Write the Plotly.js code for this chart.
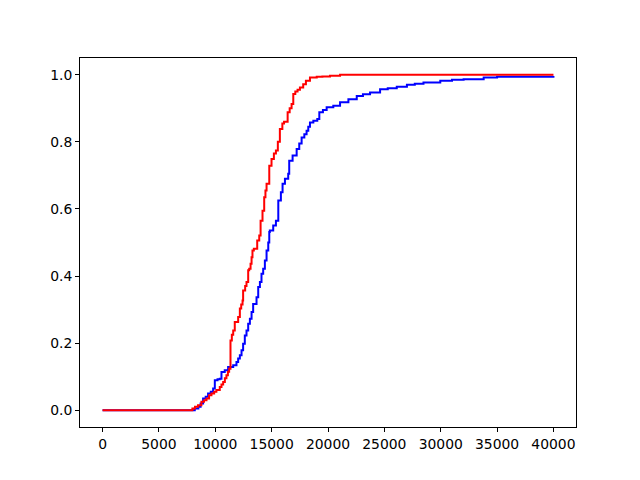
<!DOCTYPE html>
<html>
<head>
<meta charset="utf-8">
<script src="https://cdn.plot.ly/plotly-3.0.1.min.js"></script>
<style>
  body { margin: 0; background: #fff; }
  #chart { width: 640px; height: 480px; }
</style>
</head>
<body>
<div id="chart"></div>
<script>
// step corners: at each x the curve jumps to the matching y
var blueX = [0, 8180, 8500, 8700, 8920, 9150, 9360, 9600, 9810, 9960, 10200, 10400, 10550, 10840,
  11140, 11590, 11880, 12030, 12180, 12330, 12470, 12620, 12770, 12920, 13070, 13220, 13360,
  13660, 13810, 13960, 14100, 14250, 14400, 14550, 14700, 14790, 14840, 15140, 15380, 15590,
  15820, 15970, 16180, 16470, 16560, 16860, 17220, 17450, 17660, 17900, 18100, 18250, 18400,
  18700, 19050, 19230, 19550, 19880, 20470, 21070, 21810, 22550, 23100, 23730, 24620, 25300,
  26100, 27000, 27700, 28470, 29960, 31000, 32030, 33810, 35000, 40000];
var blueY = [0, 0.005, 0.01, 0.02, 0.035, 0.04, 0.05, 0.055, 0.065, 0.089, 0.092, 0.094, 0.114, 0.119,
  0.129, 0.134, 0.144, 0.154, 0.164, 0.179, 0.198, 0.223, 0.238, 0.258, 0.273, 0.293, 0.317,
  0.337, 0.367, 0.382, 0.407, 0.422, 0.446, 0.476, 0.5, 0.531, 0.536, 0.551, 0.565, 0.625,
  0.65, 0.675, 0.69, 0.705, 0.744, 0.759, 0.779, 0.795, 0.813, 0.823, 0.833, 0.845, 0.858,
  0.863, 0.868, 0.888, 0.895, 0.903, 0.908, 0.918, 0.927, 0.937, 0.942, 0.947, 0.957, 0.96,
  0.964, 0.97, 0.973, 0.977, 0.982, 0.985, 0.987, 0.992, 0.994, 0.996];

var redX = [0, 7970, 8200, 8470, 8770, 9000, 9220, 9450, 9660, 9900, 10100, 10400, 10550, 10700,
  10850, 10990, 11120, 11230, 11350, 11470, 11590, 11730, 12030, 12180, 12300, 12420, 12470,
  12650, 12770, 12920, 13010, 13130, 13220, 13300, 13420, 13720, 13900, 14020, 14190, 14340,
  14450, 14550, 14790, 14990, 15200, 15380, 15550, 15730, 15950, 16100, 16420, 16600, 16770,
  16920, 17100, 17300, 17510, 17800, 18040, 18400, 19000, 19500, 20180, 21070, 40000];
var redY = [0, 0.005, 0.01, 0.015, 0.025, 0.03, 0.035, 0.045, 0.05, 0.055, 0.06, 0.069, 0.077, 0.084,
  0.095, 0.104, 0.115, 0.124, 0.208, 0.225, 0.238, 0.263, 0.278, 0.303, 0.315, 0.327, 0.357,
  0.37, 0.382, 0.417, 0.422, 0.437, 0.456, 0.476, 0.481, 0.506, 0.521, 0.565, 0.595, 0.635,
  0.655, 0.675, 0.729, 0.749, 0.765, 0.774, 0.8, 0.838, 0.855, 0.86, 0.888, 0.9, 0.913,
  0.943, 0.95, 0.955, 0.962, 0.972, 0.982, 0.992, 0.994, 0.995, 0.997, 1.0, 1.0];

var xTicks = [0, 5000, 10000, 15000, 20000, 25000, 30000, 35000, 40000];
var yTicks = [0, 0.2, 0.4, 0.6, 0.8, 1.0];

var trace1 = {
  x: blueX,
  y: blueY,
  type: 'scatter',
  mode: 'lines',
  line: {color: '#0000ff', width: 2, shape: 'hv'}
};

var trace2 = {
  x: redX,
  y: redY,
  type: 'scatter',
  mode: 'lines',
  line: {color: '#ff0000', width: 2, shape: 'hv'}
};

var axisStyle = {
  showline: true,
  mirror: true,
  linecolor: '#000',
  linewidth: 1,
  showgrid: false,
  zeroline: false,
  ticks: 'outside',
  ticklen: 4,
  tickwidth: 1,
  tickcolor: '#000',
  tickfont: {family: 'DejaVu Sans', size: 13.9, color: '#000'}
};

var layout = {
  showlegend: false,
  autosize: false,
  width: 640,
  height: 480,
  paper_bgcolor: '#fff',
  plot_bgcolor: '#fff',
  margin: {l: 80, r: 64, t: 58, b: 53, pad: 0},
  xaxis: Object.assign({}, axisStyle, {
    range: [-2000, 42000],
    tickvals: xTicks,
    ticktext: xTicks.map(function (v) { return String(v); })
  }),
  yaxis: Object.assign({}, axisStyle, {
    range: [-0.05, 1.05],
    tickvals: yTicks,
    ticktext: yTicks.map(function (v) { return v.toFixed(1); })
  })
};

Plotly.newPlot('chart', [trace1, trace2], layout, {displayModeBar: false});
</script>
</body>
</html>
